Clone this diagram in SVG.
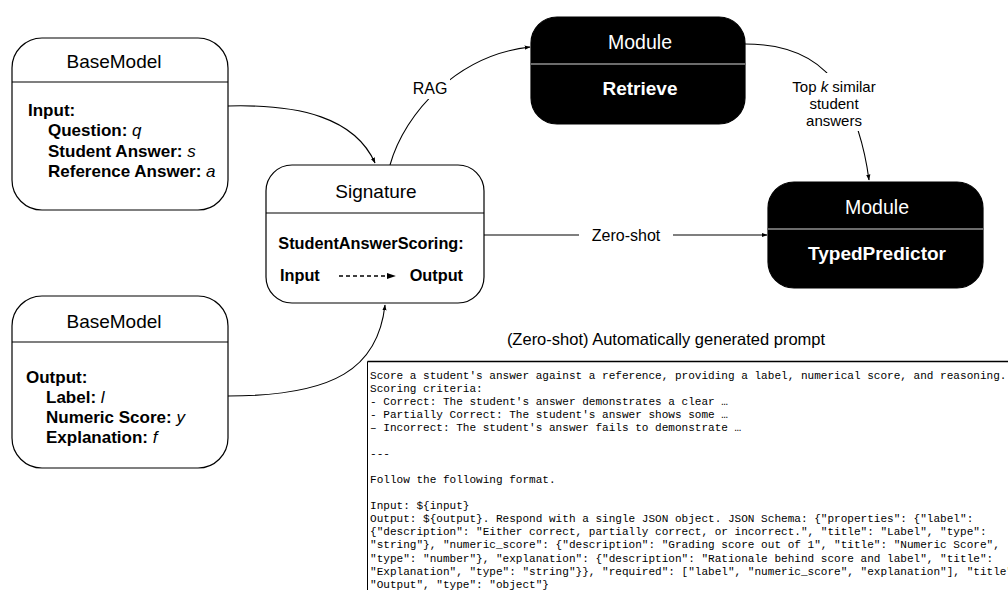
<svg xmlns="http://www.w3.org/2000/svg" width="1008" height="590" viewBox="0 0 1008 590">
  <defs>
    <marker id="arr" viewBox="0 0 10 10" refX="9" refY="5" markerWidth="6" markerHeight="6" orient="auto" markerUnits="userSpaceOnUse">
      <path d="M0,1.5 L10,5 L0,8.5 Z" fill="#000"/>
    </marker>
    <marker id="arr2" viewBox="0 0 10 10" refX="9" refY="5" markerWidth="9" markerHeight="9" orient="auto" markerUnits="userSpaceOnUse">
      <path d="M0,1.5 L10,5 L0,8.5 Z" fill="#000"/>
    </marker>
  </defs>
  <style>
    .box { fill: #fff; stroke: #000; stroke-width: 1.2; }
    .dark { fill: #000; stroke: #000; stroke-width: 1.2; }
    .sep { stroke: #000; stroke-width: 1.2; }
    .sepw { stroke: #d8d8d8; stroke-width: 1.2; }
    .title { font-family: "Liberation Sans", Arial, sans-serif; font-size: 19px; text-anchor: middle; fill: #000; }
    .wtitle { font-family: "Liberation Sans", Arial, sans-serif; font-size: 19.5px; text-anchor: middle; fill: #fff; }
    .wbold { font-family: "Liberation Sans", Arial, sans-serif; font-size: 19px; font-weight: bold; text-anchor: middle; fill: #fff; }
    .field { font-family: "Liberation Sans", Arial, sans-serif; font-size: 17px; font-weight: bold; fill: #000; }
    .sfield { font-family: "Liberation Sans", Arial, sans-serif; font-size: 16.3px; font-weight: bold; fill: #000; }
    .var { font-weight: normal; font-style: italic; }
    .lbl { font-family: "Liberation Sans", Arial, sans-serif; font-size: 16px; text-anchor: middle; fill: #000; }
    .lbl2 { font-family: "Liberation Sans", Arial, sans-serif; font-size: 15px; text-anchor: middle; fill: #000; }
    .edge { fill: none; stroke: #000; stroke-width: 1.1; }
    .mono { font-family: "Liberation Mono", "Courier New", monospace; font-size: 11.05px; fill: #000; white-space: pre; }
  </style>

  <!-- connectors -->
  <g id="connectors">
    <path class="edge" d="M228,106 C300,104 355,118 375,163" marker-end="url(#arr)"/>
    <path class="edge" d="M228,396 C335,396 378,368 385,305" marker-end="url(#arr)"/>
    <path class="edge" d="M390,165 C405,112 458,55 530,47" marker-end="url(#arr)"/>
    <path class="edge" d="M484,235 L767,235" marker-end="url(#arr)"/>
    <path class="edge" d="M745,44 C792,44 822,60 840,90 C856,117 865,150 869,180" marker-end="url(#arr)"/>
    <!-- label backgrounds -->
    <rect x="409" y="76" width="41" height="23" fill="#fff"/>
    <rect x="579" y="224" width="94" height="22" fill="#fff"/>
    <rect x="790" y="73" width="88" height="58" fill="#fff"/>
    <text class="lbl" x="430" y="94">RAG</text>
    <text class="lbl" x="626" y="241">Zero-shot</text>
    <text class="lbl2" x="834" y="92">Top <tspan font-style="italic">k</tspan> similar</text>
    <text class="lbl2" x="834" y="109">student</text>
    <text class="lbl2" x="834" y="126">answers</text>
  </g>

  <!-- input model -->
  <g id="basemodel-input">
    <rect class="box" x="12" y="38" width="216" height="172" rx="30"/>
    <line class="sep" x1="12" y1="82" x2="228" y2="82"/>
    <text class="title" x="114" y="68">BaseModel</text>
    <text class="field" x="28" y="116">Input:</text>
    <text class="field" x="48" y="136">Question: <tspan class="var">q</tspan></text>
    <text class="field" x="48" y="157">Student Answer: <tspan class="var">s</tspan></text>
    <text class="field" x="48" y="177">Reference Answer: <tspan class="var">a</tspan></text>
  </g>

  <!-- output model -->
  <g id="basemodel-output">
    <rect class="box" x="12" y="296" width="216" height="172" rx="30"/>
    <line class="sep" x1="12" y1="342" x2="228" y2="342"/>
    <text class="title" x="114" y="328">BaseModel</text>
    <text class="field" x="26" y="383">Output:</text>
    <text class="field" x="46" y="403">Label: <tspan class="var">l</tspan></text>
    <text class="field" x="46" y="423">Numeric Score: <tspan class="var">y</tspan></text>
    <text class="field" x="46" y="443">Explanation: <tspan class="var">f</tspan></text>
  </g>

  <!-- signature -->
  <g id="signature">
    <rect class="box" x="266" y="165" width="218" height="138" rx="26"/>
    <line class="sep" x1="266" y1="213" x2="484" y2="213"/>
    <text class="title" x="376" y="198">Signature</text>
    <text class="sfield" x="371" y="249" text-anchor="middle">StudentAnswerScoring:</text>
    <text class="sfield" x="280" y="281">Input</text>
    <text class="sfield" x="463" y="281" text-anchor="end">Output</text>
    <line x1="339" y1="276" x2="395" y2="276" stroke="#000" stroke-width="1.5" stroke-dasharray="4,3" marker-end="url(#arr2)"/>
  </g>

  <!-- retrieve module -->
  <g id="module-retrieve">
    <rect class="dark" x="531" y="17" width="214" height="107" rx="26"/>
    <line class="sepw" x1="531" y1="64" x2="745" y2="64"/>
    <text class="wtitle" x="640" y="49">Module</text>
    <text class="wbold" x="640" y="95">Retrieve</text>
  </g>

  <!-- typed predictor module -->
  <g id="module-typedpredictor">
    <rect class="dark" x="768" y="182" width="215" height="106" rx="26"/>
    <line class="sepw" x1="768" y1="229" x2="983" y2="229"/>
    <text class="wtitle" x="877" y="214">Module</text>
    <text class="wbold" x="877" y="260">TypedPredictor</text>
  </g>

  <!-- generated prompt -->
  <g id="prompt">
    <text class="title" x="666" y="345" style="font-size:16.5px">(Zero-shot) Automatically generated prompt</text>
    <line x1="367.5" y1="361.5" x2="1008" y2="361.5" stroke="#000" stroke-width="1.6"/>
    <line x1="367.5" y1="361.5" x2="367.5" y2="590" stroke="#000" stroke-width="1"/>
    <text class="mono" x="370" y="378.5">Score a student's answer against a reference, providing a label, numerical score, and reasoning.</text>
    <text class="mono" x="370" y="391.6">Scoring criteria:</text>
    <text class="mono" x="370" y="404.6">- Correct: The student's answer demonstrates a clear …</text>
    <text class="mono" x="370" y="417.7">- Partially Correct: The student's answer shows some …</text>
    <text class="mono" x="370" y="430.8">– Incorrect: The student's answer fails to demonstrate …</text>
    <text class="mono" x="370" y="457">---</text>
    <text class="mono" x="370" y="483.1">Follow the following format.</text>
    <text class="mono" x="370" y="509.2">Input: ${input}</text>
    <text class="mono" x="370" y="522.3">Output: ${output}. Respond with a single JSON object. JSON Schema: {"properties": {"label":</text>
    <text class="mono" x="370" y="535.4">{"description": "Either correct, partially correct, or incorrect.", "title": "Label", "type":</text>
    <text class="mono" x="370" y="548.4">"string"}, "numeric_score": {"description": "Grading score out of 1", "title": "Numeric Score",</text>
    <text class="mono" x="370" y="561.5">"type": "number"}, "explanation": {"description": "Rationale behind score and label", "title":</text>
    <text class="mono" x="370" y="574.6">"Explanation", "type": "string"}}, "required": ["label", "numeric_score", "explanation"], "title":</text>
    <text class="mono" x="370" y="587.6">"Output", "type": "object"}</text>
  </g>
</svg>
